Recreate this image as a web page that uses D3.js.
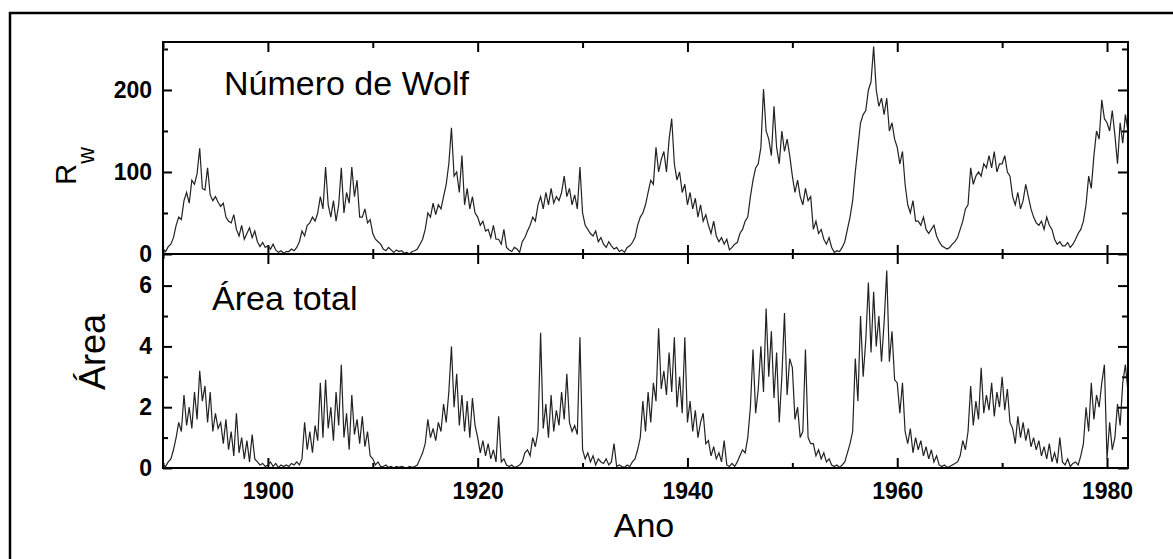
<!DOCTYPE html>
<html>
<head>
<meta charset="utf-8">
<script src="https://cdn.jsdelivr.net/npm/d3@7"></script>
<style>
  body { margin: 0; background: #fff; }
  svg text { font-family: "Liberation Sans", Arial, sans-serif; }
</style>
</head>
<body>
<div id="chart_area"></div>
<script>
// quarterly samples, starting at 1890.0
var firstYear = 1890;
var stepYear = 0.25;

var wolfValues = [
    5, 3, 9, 12,  20, 35, 45, 42,  65, 75, 62, 90,  85, 98, 129, 80,  78, 105, 72, 65,
    70, 63, 58, 62,  45, 40, 38, 48,  30, 22, 35, 18,  25, 32, 20, 28,  15, 9, 14, 8,
    10, 6, 12, 5,  2, 4, 1, 3,  3, 6, 4, 8,  15, 28, 22, 35,  38, 45, 40, 50,
    70, 55, 106, 60,  45, 65, 40, 60,  105, 50, 75, 62,  106, 70, 90, 45,  45, 55, 38, 42,
    25, 18, 15, 12,  6, 4, 8, 5,  2, 5, 3, 4,  1, 2, 0, 3,  4, 6, 12, 18,
    30, 50, 45, 62,  48, 60, 55, 70,  85, 110, 154, 95,  100, 75, 120, 60,  80, 55, 70, 50,
    45, 35, 40, 28,  30, 20, 35, 18,  18, 12, 30, 8,  5, 3, 8, 6,  2, 15, 20, 28,
    35, 45, 40, 60,  70, 55, 75, 60,  80, 62, 70, 65,  75, 95, 70, 80,  60, 72, 55, 106,
    50, 35, 30, 25,  22, 28, 15, 20,  12, 8, 15, 10,  6, 8, 3, 5,  2, 8, 10, 14,
    20, 35, 45, 50,  60, 75, 90, 85,  130, 100, 115, 125,  100, 140, 165, 110,  90, 100, 75, 85,
    60, 75, 55, 68,  45, 60, 40, 48,  35, 25, 40, 22,  15, 20, 12, 18,  5, 8, 12, 14,
    25, 30, 40, 45,  70, 90, 105, 110,  130, 201, 150, 140,  120, 180, 130, 110,  150, 125, 140, 120,
    95, 75, 90, 70,  60, 80, 65, 70,  30, 40, 25, 30,  18, 12, 20, 8,  2, 4, 3, 8,
    15, 30, 45, 65,  100, 130, 160, 170,  175, 200, 210, 253,  200, 180, 190, 170,  190, 150, 160, 140,
    130, 110, 125, 85,  60, 50, 65, 40,  40, 35, 45, 30,  25, 30, 35, 22,  15, 10, 8, 6,
    8, 12, 15, 20,  30, 40, 55, 60,  105, 85, 95, 100,  95, 110, 105, 120,  105, 125, 100, 110,
    110, 120, 100, 95,  70, 60, 75, 55,  65, 85, 70, 55,  45, 38, 35, 40,  30, 45, 35, 30,
    18, 12, 15, 10,  10, 14, 8, 12,  18, 25, 30, 40,  60, 95, 80, 120,  150, 140, 188, 165,
    160, 150, 175, 145,  110, 160, 135, 170,  150
];

var areaValues = [
    0.1, 0.05, 0.2, 0.3,  0.6, 1.0, 1.5, 1.2,  2.4, 1.4, 2.0, 1.3,  2.5, 1.6, 3.2, 2.2,  2.7, 1.5, 2.5, 1.2,
    1.8, 1.3, 1.5, 0.8,  1.6, 0.6, 1.2, 0.4,  1.8, 0.5, 1.0, 0.3,  0.9, 0.2, 1.1, 0.3,  0.2, 0.1, 0.15, 0.05,
    0.1, 0.2, 0.05, 0.15,  0.02, 0.1, 0.05, 0.1,  0.05, 0.15, 0.1, 0.2,  0.1, 0.3, 1.5, 0.6,  1.2, 0.5, 1.4, 0.9,
    2.8, 1.0, 2.9, 1.3,  2.0, 0.9, 2.5, 1.4,  3.4, 1.0, 1.8, 0.6,  2.4, 1.1, 1.6, 0.8,  1.7, 0.7, 1.2, 0.4,
    0.3, 0.1, 0.2, 0.05,  0.05, 0.1, 0.02, 0.05,  0.0, 0.05, 0.02, 0.05,  0.02, 0.0, 0.05, 0.02,  0.05, 0.1, 0.3, 0.5,
    0.8, 1.6, 1.0, 1.3,  0.9, 1.5, 1.2, 2.1,  1.5, 2.5, 4.0, 2.0,  3.1, 1.4, 2.4, 1.2,  2.2, 1.0, 2.3, 1.4,
    1.0, 0.5, 0.9, 0.4,  0.8, 0.3, 0.6, 0.2,  1.7, 0.2, 0.3, 0.1,  0.05, 0.1, 0.02, 0.05,  0.1, 0.2, 0.5, 0.6,
    0.4, 1.0, 0.7, 1.2,  4.45, 1.3, 2.1, 1.0,  2.4, 1.2, 1.9, 1.4,  2.5, 1.6, 3.1, 1.5,  1.2, 1.4, 1.1, 4.3,
    0.6, 0.3, 0.5, 0.2,  0.4, 0.1, 0.3, 0.2,  0.15, 0.3, 0.1, 0.2,  0.8, 0.05, 0.1, 0.05,  0.02, 0.1, 0.05, 0.2,
    0.3, 0.6, 1.0, 2.2,  1.2, 2.5, 1.5, 2.8,  2.2, 4.6, 2.6, 3.2,  2.4, 3.8, 2.5, 4.3,  2.0, 3.0, 1.8, 4.3,
    1.5, 2.2, 1.2, 1.9,  1.0, 1.5, 1.8, 0.8,  0.9, 0.4, 0.7, 0.3,  0.5, 0.2, 0.9, 0.1,  0.05, 0.15, 0.05, 0.2,
    0.4, 0.6, 0.5, 1.0,  2.0, 3.9, 1.8, 2.6,  4.0, 2.5, 5.25, 3.0,  4.5, 2.3, 3.8, 1.5,  3.0, 5.1, 2.4, 3.6,
    3.3, 1.6, 2.0, 1.0,  1.2, 3.9, 1.0, 0.8,  0.8, 0.4, 0.6, 0.3,  0.5, 0.2, 0.3, 0.1,  0.05, 0.1, 0.02, 0.1,
    0.2, 0.5, 0.8, 1.2,  3.6, 2.2, 5.0, 3.0,  4.2, 6.1, 3.8, 5.8,  4.0, 5.0, 3.5, 4.8,  6.5, 3.5, 4.5, 2.9,
    2.8, 1.8, 2.8, 1.2,  0.8, 1.3, 0.5, 1.0,  0.6, 0.9, 0.4, 0.7,  0.3, 0.6, 0.2, 0.4,  0.1, 0.05, 0.1, 0.02,
    0.05, 0.1, 0.15, 0.2,  0.4, 0.9, 0.6, 1.2,  2.7, 1.4, 2.2, 1.6,  3.3, 1.8, 2.4, 1.9,  2.8, 1.7, 2.5, 2.0,
    3.0, 1.9, 2.6, 1.5,  1.3, 0.8, 1.7, 1.0,  1.5, 0.9, 1.3, 0.7,  1.0, 0.6, 0.9, 0.4,  0.7, 0.3, 0.8, 0.2,
    0.5, 0.15, 1.0, 0.2,  0.1, 0.3, 0.05, 0.15,  0.2, 0.1, 0.4, 0.8,  2.0, 1.2, 2.8, 1.6,  2.4, 2.0, 2.8, 3.4,
    0.3, 1.5, 0.6, 1.0,  2.1, 1.4, 2.8, 3.4,  2.5
];

var xDomain = [1890, 1982];
var xMajorTicks = [1900, 1920, 1940, 1960, 1980];
var xMinorTicks = [1890, 1910, 1930, 1950, 1970];
var wolfDomain = [0, 258.5];
var wolfMajorTicks = [0, 100, 200];
var wolfMinorTicks = [50, 150, 250];
var areaDomain = [0, 7.04];
var areaMajorTicks = [0, 2, 4, 6];
var areaMinorTicks = [1, 3, 5];

var wolfTitle = "Número de Wolf";
var areaTitle = "Área total";
var xLabel = "Ano";
var areaLabel = "Área";

// page and frame sizes
var pageW = 1173, pageH = 559;
var plotLeft = 163, plotRight = 1128, plotTop = 42, plotMid = 254, plotBottom = 468;

var svg = d3.select("#chart_area")
    .append("svg")
    .attr("width", pageW)
    .attr("height", pageH);

// outer frame (only top and left edge inside the picture)
svg.append("rect")
    .attr("x", 10)
    .attr("y", 13)
    .attr("width", pageW + 20)
    .attr("height", pageH + 20)
    .attr("fill", "none")
    .attr("stroke", "#000")
    .attr("stroke-width", 2.5);

var x = d3.scaleLinear().domain(xDomain).range([plotLeft, plotRight]);
var yWolf = d3.scaleLinear().domain(wolfDomain).range([plotMid, plotTop]);
var yArea = d3.scaleLinear().domain(areaDomain).range([plotBottom, plotMid]);

function drawTicks(axis, tx, ty, scale, major, minor, bigLen, smallLen, labels, pad) {
    var g = svg.append("g").attr("transform", "translate(" + tx + "," + ty + ")");
    g.call(axis(scale)
        .tickValues(major)
        .tickSizeInner(-bigLen)
        .tickSizeOuter(0)
        .tickPadding(pad || 3)
        .tickFormat(labels ? d3.format("d") : ""));
    g.select(".domain").remove();
    var g2 = svg.append("g").attr("transform", "translate(" + tx + "," + ty + ")");
    g2.call(axis(scale)
        .tickValues(minor)
        .tickSizeInner(-smallLen)
        .tickSizeOuter(0)
        .tickFormat(""));
    g2.select(".domain").remove();
    svg.selectAll(".tick line").attr("stroke", "#000").attr("stroke-width", 2);
    return g;
}

// x ticks on every horizontal edge
drawTicks(d3.axisTop, 0, plotTop, x, xMajorTicks, xMinorTicks, 10, 6, false);
drawTicks(d3.axisBottom, 0, plotMid, x, xMajorTicks, xMinorTicks, 9, 5, false);
drawTicks(d3.axisTop, 0, plotMid, x, xMajorTicks, xMinorTicks, 10, 5, false);
var xLab = drawTicks(d3.axisBottom, 0, plotBottom, x, xMajorTicks, xMinorTicks, 10, 5, true, 15);

// y ticks left and right
var wl = drawTicks(d3.axisLeft, plotLeft, 0, yWolf, wolfMajorTicks, wolfMinorTicks, 9, 5, true, 11);
drawTicks(d3.axisRight, plotRight, 0, yWolf, wolfMajorTicks, wolfMinorTicks, 10, 6, false);
var al = drawTicks(d3.axisLeft, plotLeft, 0, yArea, areaMajorTicks, areaMinorTicks, 9, 5, true, 11);
drawTicks(d3.axisRight, plotRight, 0, yArea, areaMajorTicks, areaMinorTicks, 10, 6, false);

[xLab, wl, al].forEach(function (g) {
    g.selectAll("text")
        .attr("font-size", 23)
        .attr("font-weight", "bold")
        .attr("fill", "#000");
});

// the two series
var wolfLine = d3.line()
    .x(function (d, i) { return x(firstYear + i * stepYear); })
    .y(function (d) { return yWolf(d); });
var areaLine = d3.line()
    .x(function (d, i) { return x(firstYear + i * stepYear); })
    .y(function (d) { return yArea(d); });

svg.append("path")
    .datum(wolfValues)
    .attr("d", wolfLine)
    .attr("fill", "none")
    .attr("stroke", "#222")
    .attr("stroke-width", 1.2);

svg.append("path")
    .datum(areaValues)
    .attr("d", areaLine)
    .attr("fill", "none")
    .attr("stroke", "#222")
    .attr("stroke-width", 1.2);

// panel frames
svg.append("rect")
    .attr("x", plotLeft).attr("y", plotTop)
    .attr("width", plotRight - plotLeft).attr("height", plotBottom - plotTop)
    .attr("fill", "none").attr("stroke", "#000").attr("stroke-width", 2);
svg.append("line")
    .attr("x1", plotLeft).attr("x2", plotRight)
    .attr("y1", plotMid).attr("y2", plotMid)
    .attr("stroke", "#000").attr("stroke-width", 2);

// texts
svg.append("text")
    .attr("x", 224).attr("y", 95)
    .attr("font-size", 34)
    .text(wolfTitle);
svg.append("text")
    .attr("x", 212).attr("y", 310)
    .attr("font-size", 34)
    .text(areaTitle);
svg.append("text")
    .attr("x", 644).attr("y", 537)
    .attr("text-anchor", "middle")
    .attr("font-size", 34)
    .text(xLabel);

var rw = svg.append("text")
    .attr("transform", "translate(76,166)rotate(-90)")
    .attr("text-anchor", "middle")
    .attr("font-size", 29);
rw.append("tspan").text("R");
rw.append("tspan").attr("dy", 18).attr("font-size", 23).text("w");

svg.append("text")
    .attr("transform", "translate(105,352)rotate(-90)")
    .attr("text-anchor", "middle")
    .attr("font-size", 36)
    .text(areaLabel);
</script>
</body>
</html>
